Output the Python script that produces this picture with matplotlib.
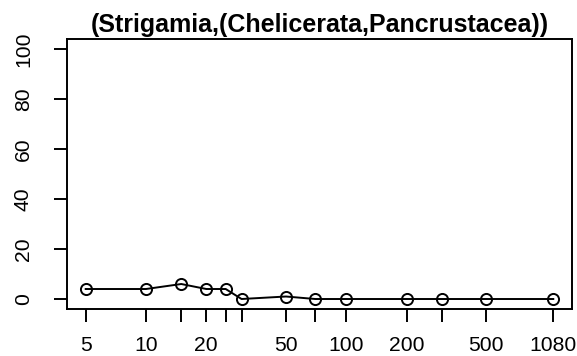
import numpy as np
import matplotlib
matplotlib.use("Agg")
import matplotlib.pyplot as plt

plt.rcParams['font.family'] = ['Liberation Sans', 'DejaVu Sans']

# sample sizes and percent support for the topology
sizes = [5, 10, 15, 20, 25, 30, 50, 70, 100, 200, 300, 500, 1080]
support = [4, 4, 6, 4, 4, 0, 1, 0, 0, 0, 0, 0, 0]
shown_labels = [5, 10, 20, 50, 100, 200, 500, 1080]
yticks = [0, 20, 40, 60, 80, 100]
title = "(Strigamia,(Chelicerata,Pancrustacea))"

fig = plt.figure(figsize=(5.77, 3.56), dpi=100)
ax = fig.add_axes([0.1161, 0.132, 0.8752, 0.7584])

ax.plot(sizes, support, color="black", linewidth=1.4, marker="o",
        markersize=8, markerfacecolor="none", markeredgewidth=1.4)

ax.set_xscale("log")
lo, hi = np.log10(sizes[0]), np.log10(sizes[-1])
pad = 0.04 * (hi - lo)
ax.set_xlim(10 ** (lo - pad), 10 ** (hi + pad))
ax.set_ylim(-4, 104)

ax.set_xticks(sizes)
ax.set_xticklabels([str(s) if s in shown_labels else "" for s in sizes])
ax.xaxis.set_minor_locator(matplotlib.ticker.NullLocator())
ax.set_yticks(yticks)
ax.set_yticklabels([str(v) for v in yticks], rotation=90, va="center")

ax.tick_params(axis="both", direction="out", length=9.5, width=1.4,
               labelsize=15.2, color="black")
ax.tick_params(axis="x", pad=10)
ax.tick_params(axis="y", pad=15)

for s in ax.spines.values():
    s.set_linewidth(1.4)

ax.set_title(title, fontsize=18, fontweight="bold", pad=5)

fig.savefig("out.png", dpi=100)
